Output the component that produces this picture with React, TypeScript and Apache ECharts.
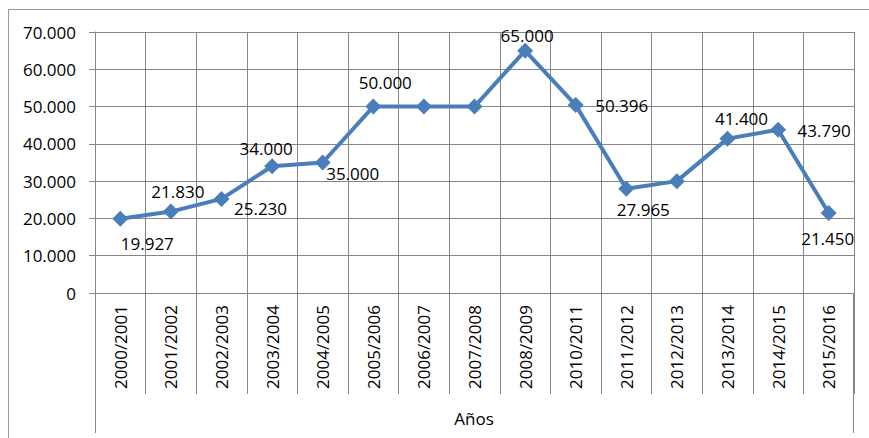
import React, { useEffect, useRef } from "react";
import * as echarts from "echarts";

const categories = [
  "2000/2001", "2001/2002", "2002/2003", "2003/2004", "2004/2005",
  "2005/2006", "2006/2007", "2007/2008", "2008/2009", "2010/2011",
  "2011/2012", "2012/2013", "2013/2014", "2014/2015", "2015/2016",
];
const values = [
  19927, 21830, 25230, 34000, 35000, 50000, 50000, 50000, 65000, 50396,
  27965, 30000, 41400, 43790, 21450,
];
const showLabel = [
  true, true, true, true, true, true, false, false, true, true,
  true, false, true, true, true,
];
const labelOffsets: [number, number][] = [
  [27, 25], [7, -20], [39, 10], [-6, -18], [30, 11], [12, -24], [0, 0], [0, 0],
  [2, -15], [46, 0], [17, 21], [0, 0], [14, -20], [46, 1], [-1, 25],
];
const yTicks = [0, 10000, 20000, 30000, 40000, 50000, 60000, 70000];
const axisTitle = "Años";

const fmt = (v: number) => {
  if (v === 0) return "0";
  const s = Math.round(v).toString();
  return s.replace(/\B(?=(\d{3})+(?!\d))/g, ".");
};

const FONT = "Open Sans";
const GRID = "#868686";
const BLUE = "#4a7ebb";

export default function App() {
  const ref = useRef<HTMLDivElement>(null);
  useEffect(() => {
    if (!ref.current) return;
    const chart = echarts.init(ref.current, undefined, { renderer: "svg" });
    const L = 95, T = 32, R = 854, B = 293;
    chart.setOption({
      animation: false,
      backgroundColor: "#ffffff",
      textStyle: { fontFamily: FONT },
      grid: { left: L, top: T, right: 869 - R, bottom: 438 - B, containLabel: false },
      xAxis: {
        type: "category",
        data: categories,
        boundaryGap: true,
        axisLine: { show: true, lineStyle: { color: GRID, width: 1 } },
        axisTick: { show: true, length: 101, interval: 0, lineStyle: { color: GRID } },
        splitLine: { show: true, interval: 0, lineStyle: { color: GRID, width: 1 } },
        axisLabel: {
          interval: 0,
          rotate: 90,
          margin: 12,
          fontSize: 17,
          color: "#000",
          fontFamily: FONT,
        },
      },
      yAxis: {
        type: "value",
        min: yTicks[0],
        max: yTicks[yTicks.length - 1],
        interval: 10000,
        axisLine: { show: true, lineStyle: { color: GRID, width: 1 } },
        axisTick: { show: true, length: 6, lineStyle: { color: GRID } },
        splitLine: { show: true, lineStyle: { color: GRID, width: 1 } },
        axisLabel: {
          formatter: (v: number) => fmt(v),
          fontSize: 17,
          color: "#000",
          margin: 19,
          fontFamily: FONT,
        },
      },
      series: [
        {
          type: "line",
          data: values.map((v, i) => ({
            value: v,
            label: {
              show: showLabel[i],
              position: "inside",
              offset: labelOffsets[i],
            },
          })),
          symbol: "diamond",
          symbolSize: 16,
          lineStyle: { color: BLUE, width: 4 },
          itemStyle: { color: BLUE },
          label: {
            show: true,
            formatter: (p: any) => fmt(p.value),
            fontSize: 17,
            color: "#000",
            fontFamily: FONT,
          },
          z: 5,
        },
      ],
      graphic: [
        {
          type: "rect",
          shape: { x: 8.5, y: 9.5, width: 900, height: 500 },
          style: { fill: "none", stroke: "#999", lineWidth: 1 },
          silent: true,
        },
        {
          type: "line",
          shape: { x1: L + 0.5, y1: B, x2: L + 0.5, y2: 433 },
          style: { stroke: GRID, lineWidth: 1 },
        },
        {
          type: "line",
          shape: { x1: R - 0.5, y1: B, x2: R - 0.5, y2: 433 },
          style: { stroke: GRID, lineWidth: 1 },
        },
        {
          type: "text",
          x: 474,
          y: 418,
          style: {
            text: axisTitle,
            fontSize: 17,
            fontFamily: FONT,
            fill: "#000",
            align: "center",
            verticalAlign: "middle",
          },
        },
      ],
    });
    return () => chart.dispose();
  }, []);
  return (
    <div
      ref={ref}
      style={{ position: "fixed", left: 0, top: 0, width: 869, height: 438 }}
    />
  );
}
